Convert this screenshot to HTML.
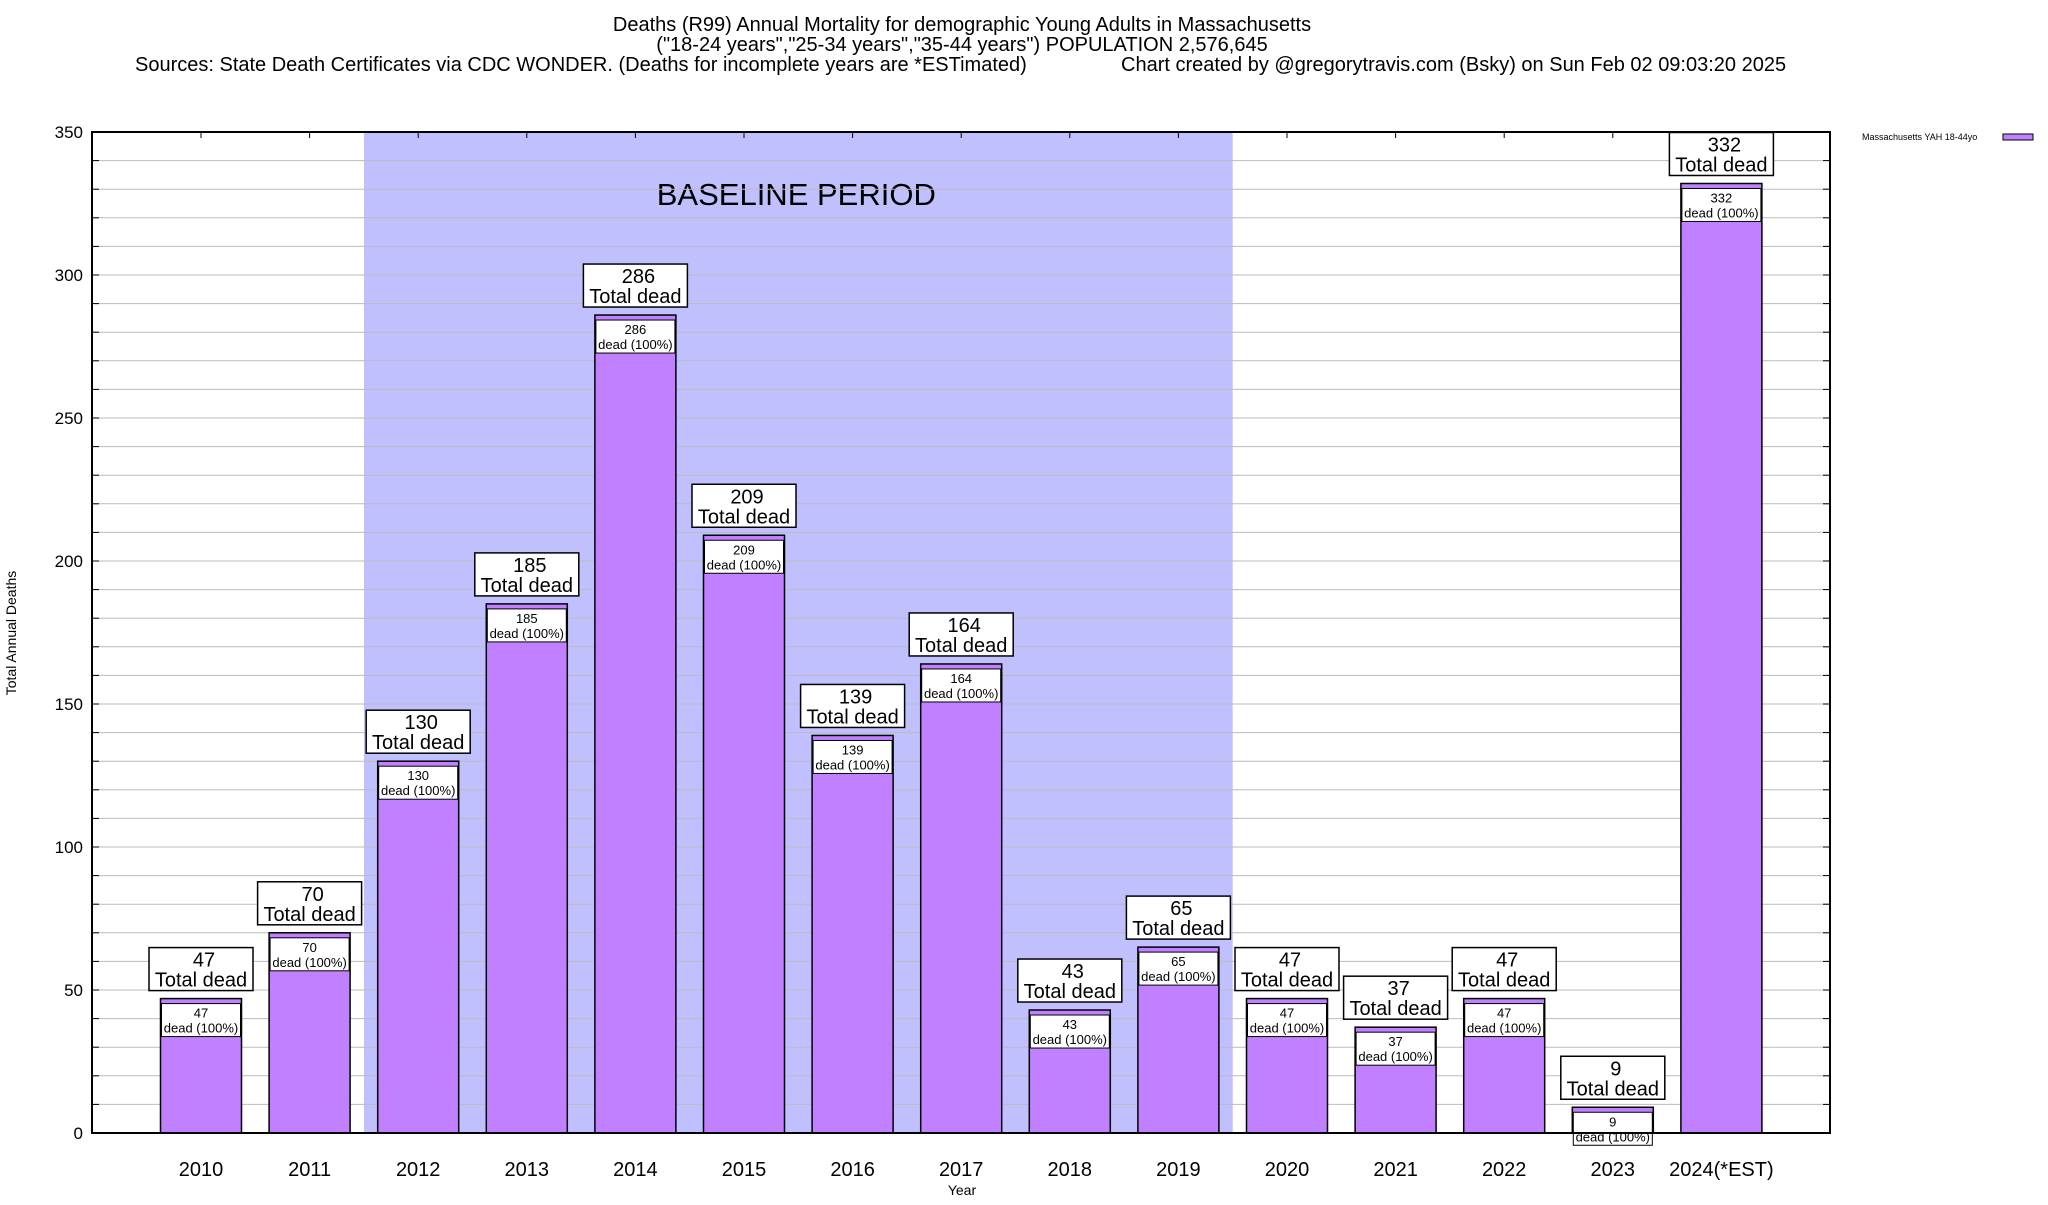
<!DOCTYPE html>
<html><head><meta charset="utf-8"><style>
html,body{margin:0;padding:0;background:#fff}
svg text{font-family:"Liberation Sans",sans-serif}
</style></head><body>
<svg id="chart" width="2048" height="1200" xmlns="http://www.w3.org/2000/svg">
<g font-size="20" text-anchor="middle">
<text x="962" y="31">Deaths (R99) Annual Mortality for demographic Young Adults in Massachusetts</text>
<text x="962" y="51">("18-24 years","25-34 years","35-44 years") POPULATION 2,576,645</text>
<text x="135" y="71" text-anchor="start">Sources: State Death Certificates via CDC WONDER. (Deaths for incomplete years are *ESTimated)</text>
<text x="1121" y="71" text-anchor="start">Chart created by @gregorytravis.com (Bsky) on Sun Feb 02 09:03:20 2025</text>
</g>
<g id="plot"></g>
<text x="16" y="633" transform="rotate(-90 16 633)" text-anchor="middle" font-size="14">Total Annual Deaths</text>
<text x="962" y="1195" text-anchor="middle" font-size="14">Year</text>
<g>
<text x="1862" y="140" font-size="9">Massachusetts YAH 18-44yo</text>
<rect x="2003" y="134" width="30" height="6" fill="#c080ff" stroke="#000" stroke-width="1"/>
</g>
</svg>
<script>
const categories=["2010","2011","2012","2013","2014","2015","2016","2017","2018","2019","2020","2021","2022","2023","2024(*EST)"];
const deaths=[47,70,130,185,286,209,139,164,43,65,47,37,47,9,332];
const yTicks=[0,50,100,150,200,250,300,350];
const baselineStart=2, baselineEnd=9;
const NS="http://www.w3.org/2000/svg";
const L=92,R=1830,T=132,B=1133,x0=201,step=108.6,bw=81;
const y=v=>B-(v/350)*(B-T);
const x=i=>x0+i*step;
const g=document.getElementById('plot');
function mk(t,a,p){const e=document.createElementNS(NS,t);for(const k in a)e.setAttribute(k,a[k]);(p||g).appendChild(e);return e;}
const sh=mk('rect',{x:x(baselineStart)-step/2,y:T,width:(baselineEnd-baselineStart+1)*step,height:B-T,fill:'#c0c0ff'});


const bt=mk('text',{x:(x(baselineStart)+x(baselineEnd))/2-2,y:205,'font-size':31,'text-anchor':'middle'});
bt.textContent='BASELINE PERIOD';


for(let v=10;v<350;v+=10){
 const ln=mk('line',{x1:L,x2:R,y1:y(v),y2:y(v),stroke:'#bbb','stroke-width':1});
 
 
 mk('line',{x1:L,x2:L+7,y1:y(v),y2:y(v),stroke:'#000'});
 mk('line',{x1:R-7,x2:R,y1:y(v),y2:y(v),stroke:'#000'});
}
yTicks.forEach(v=>{
 const t=mk('text',{x:83,y:y(v)+6,'font-size':17,'text-anchor':'end'});
 t.textContent=v;
 
 
});
categories.forEach((c,i)=>{
 mk('line',{x1:x(i),x2:x(i),y1:T,y2:T+6,stroke:'#000'});
 const t=mk('text',{x:x(i),y:1176,'font-size':20,'text-anchor':'middle'});
 t.textContent=c;
 
 
});
deaths.forEach((v,i)=>{
 const cx=x(i),top=y(v);
 const b=mk('rect',{x:cx-bw/2,y:top,width:bw,height:B-top,fill:'#c080ff',stroke:'#000','stroke-width':1.5});
 
 
 const ib=mk('rect',{x:cx-bw/2+1,y:top+5,width:bw-2,height:33,fill:'#fff',stroke:'#000','stroke-width':1});
 
 
 const t1=mk('text',{x:cx,y:top+19,'font-size':13,'text-anchor':'middle'});t1.textContent=v;
 
 
 const t2=mk('text',{x:cx,y:top+34,'font-size':13,'text-anchor':'middle'});t2.textContent='dead (100%)';
 
 
 const ob=mk('rect',{x:cx-52,y:top-51,width:104,height:43,fill:'#fff',stroke:'#000','stroke-width':1.5});
 
 
 const t3=mk('text',{x:cx+3,y:top-32,'font-size':20,'text-anchor':'middle'});t3.textContent=v;
 
 
 const t4=mk('text',{x:cx,y:top-12,'font-size':20,'text-anchor':'middle'});t4.textContent='Total dead';
 
 
});
const fr=mk('rect',{x:L,y:T,width:R-L,height:B-T,fill:'none',stroke:'#000','stroke-width':2});


</script>
</body></html>
